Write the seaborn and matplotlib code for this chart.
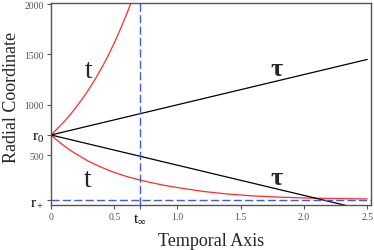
import seaborn as sns
import matplotlib.pyplot as plt

# values
r0 = 700
r_plus = 50
t_inf = 0.7

# red curve going up from r0 (leaves the plot before t_inf)
t_up = [0, 0.05, 0.1, 0.15, 0.2, 0.25, 0.3, 0.35, 0.4, 0.45, 0.5, 0.55, 0.6, 0.65]
r_up = [700, 762, 827, 899, 978, 1063, 1155, 1256, 1365, 1484, 1613, 1754, 1906, 2072]

# red curve falling from r0 towards r+
t_down = [0, 0.05, 0.1, 0.15, 0.2, 0.3, 0.4, 0.5, 0.6, 0.7, 0.8, 0.9, 1.0,
          1.2, 1.4, 1.6, 1.8, 2.0, 2.2, 2.5]
r_down = [700, 645, 596, 550, 510, 437, 378, 328, 287, 254, 225, 199, 178,
          140, 113, 95, 83, 75, 70, 65]

# straight black lines (tau coordinate)
t_line = [0, 2.5]
r_line_up = [700, 1450]
r_line_down = [700, -50]

xticks = [0, 0.5, t_inf, 1.0, 1.5, 2.0, 2.5]
xtick_labels = ['0', '0.5', r'$\mathrm{t}_\infty$', '1.0', '1.5', '2.0', '2.5']
yticks = [r_plus, 500, r0, 1000, 1500, 2000]
ytick_labels = [r'$\mathrm{r}_+$', '500', r'$\mathrm{r}_0$', '1000', '1500', '2000']

sns.set_style('ticks')
plt.rcParams['font.family'] = ['Liberation Serif', 'DejaVu Serif']
plt.rcParams['mathtext.fontset'] = 'custom'
plt.rcParams['mathtext.rm'] = 'Liberation Serif'
plt.rcParams['mathtext.it'] = 'Liberation Serif:italic'

fig = plt.figure(figsize=(3.74, 2.51), dpi=100)
ax = fig.add_axes([0.1364, 0.1773, 0.8556, 0.8087])

red = '#ff2a2a'
blue = '#4457f2'
sns.lineplot(x=t_up, y=r_up, color=red, lw=0.9, ax=ax)
sns.lineplot(x=t_down, y=r_down, color=red, lw=0.9, ax=ax)
sns.lineplot(x=t_line, y=r_line_up, color='black', lw=0.9, ax=ax)
sns.lineplot(x=t_line, y=r_line_down, color='black', lw=0.9, ax=ax)

ax.axhline(r_plus, color=blue, lw=1.0, dashes=(5.8, 2.4))
ax.axvline(t_inf, color=blue, lw=1.0, dashes=(5.8, 2.4))

ax.set_xlim(0, 2.53)
ax.set_ylim(0, 2015)

# coordinate labels inside the plot
ax.text(0.30, 1345, 't', fontsize=20, ha='center', va='center')
ax.text(0.29, 263, 't', fontsize=20, ha='center', va='center')
ax.text(1.785, 1355, 'τ', fontsize=19, fontweight='bold', ha='center', va='center')
ax.text(1.785, 280, 'τ', fontsize=19, fontweight='bold', ha='center', va='center')

ax.set_xticks(xticks)
ax.set_xticklabels(xtick_labels)
ax.set_yticks(yticks)
ax.set_yticklabels(ytick_labels)
ax.tick_params(labelsize=7, labelcolor='#555555', color='#555555', length=3, width=0.8, pad=2)
for lab in ax.get_xticklabels() + ax.get_yticklabels():
    if '$' in lab.get_text():
        lab.set_fontsize(11)
        lab.set_color('black')

for s in ax.spines.values():
    s.set_color('#555555')
    s.set_linewidth(1.0)

ax.set_xlabel('Temporal Axis', fontsize=13, labelpad=5)
ax.set_ylabel('Radial Coordinate', fontsize=13)
# the y label sits a bit above the middle of the axis in the reference
ax.yaxis.set_label_coords(-0.097, 0.535)

fig.savefig('out.png', dpi=100)
